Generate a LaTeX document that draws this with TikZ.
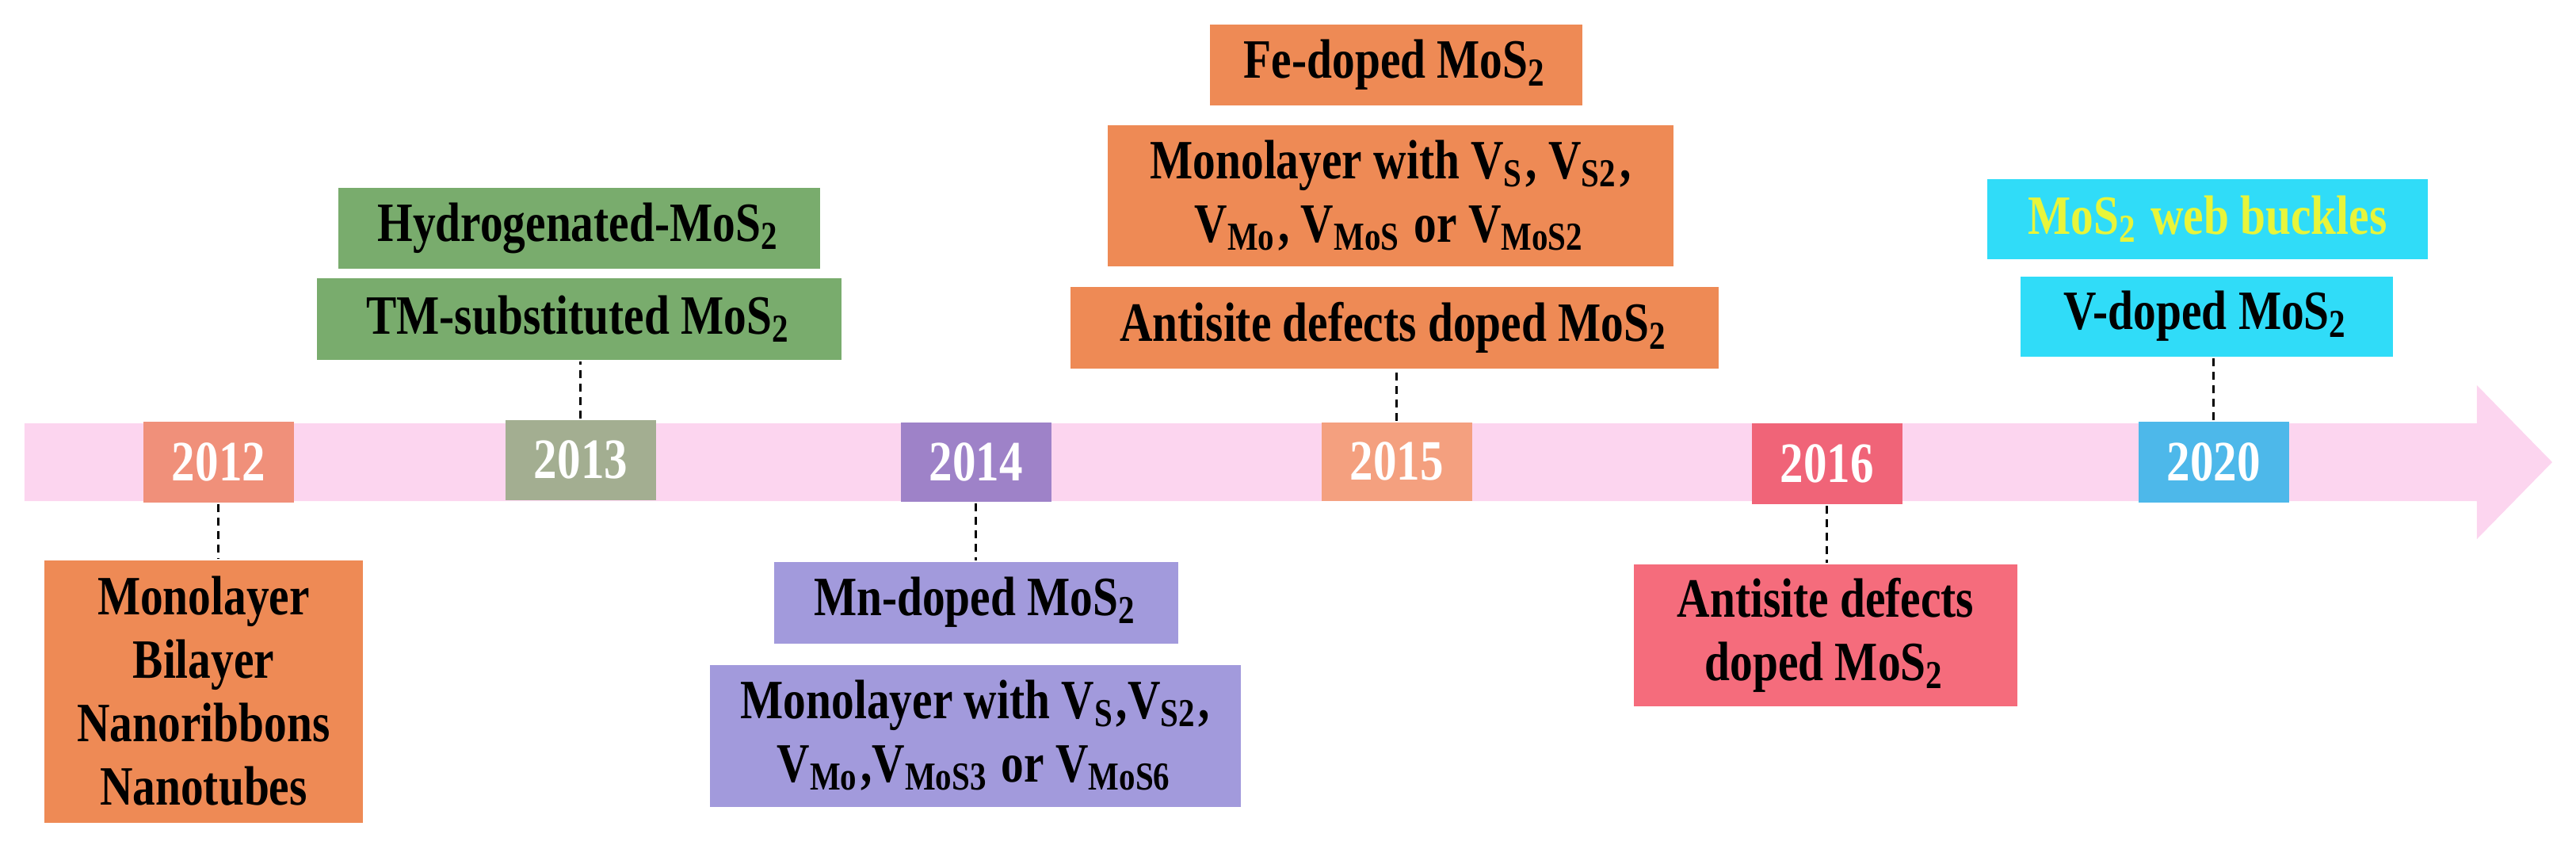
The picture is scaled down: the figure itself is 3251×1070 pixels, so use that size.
\documentclass[tikz,border=0pt]{standalone}
\usepackage{fontspec}
\setmainfont{Liberation Serif}[FakeStretch=0.82]
\newcommand\sbs[1]{\textsubscript{#1}}
\definecolor{band}{HTML}{FCD5EF}
\definecolor{c12}{HTML}{F0907A}
\definecolor{c13}{HTML}{A3AE91}
\definecolor{c14}{HTML}{9E82C8}
\definecolor{c15}{HTML}{F4A07F}
\definecolor{c16}{HTML}{F06478}
\definecolor{c20}{HTML}{4DB8EA}
\definecolor{corange}{HTML}{EE8A55}
\definecolor{cgreen}{HTML}{79AC6D}
\definecolor{cpurple}{HTML}{A29ADC}
\definecolor{cred}{HTML}{F56C7C}
\definecolor{ccyan}{HTML}{30DCF8}
\definecolor{cyel}{HTML}{E8F53A}
\begin{document}
\begin{tikzpicture}[x=0.1pt,y=-0.1pt,
  yearbox/.style={inner sep=0,font=\bfseries\fontsize{7.2}{8}\selectfont,text=white},
  infobox/.style={inner sep=0,align=center,font=\bfseries\fontsize{7}{8}\selectfont},
  conn/.style={dash pattern=on 1pt off 0.7pt,line width=0.3pt}]
\useasboundingbox (0,0) rectangle (3251,1070);
\fill[band] (31,534) -- (3126,534) -- (3126,486) -- (3221,583) -- (3126,680) -- (3126,632) -- (31,632) -- cycle;
\node[yearbox,fill=c12,minimum width=19pt,minimum height=10.2pt] (n12) at (276,583) {2012};
\node[yearbox,fill=c13,minimum width=19pt,minimum height=10.1pt] (n13) at (733,580) {2013};
\node[yearbox,fill=c14,minimum width=19pt,minimum height=10pt] (n14) at (1232,583) {2014};
\node[yearbox,fill=c15,minimum width=19pt,minimum height=9.9pt] (n15) at (1763,582) {2015};
\node[yearbox,fill=c16,minimum width=19pt,minimum height=10.2pt] (n16) at (2306,585) {2016};
\node[yearbox,fill=c20,minimum width=19pt,minimum height=10.2pt] (n20) at (2794,583) {2020};
\node[infobox,fill=corange,minimum width=40.2pt,minimum height=33.1pt] (mono) at (257,872) {Monolayer\\Bilayer\\Nanoribbons\\Nanotubes};
\node[infobox,fill=cgreen,minimum width=60.8pt,minimum height=10.2pt] (hyd) at (731,288) {Hydrogenated-MoS\sbs{2}};
\node[infobox,fill=cgreen,minimum width=66.2pt,minimum height=10.3pt] (tm) at (731,402) {TM-substituted MoS\sbs{2}};
\node[infobox,fill=cpurple,minimum width=51.1pt,minimum height=10.3pt] (mn) at (1232,760) {Mn-doped MoS\sbs{2}};
\node[infobox,fill=cpurple,minimum width=67pt,minimum height=17.9pt] (mv14) at (1231,928) {Monolayer with V\sbs{S},V\sbs{S2},\\V\sbs{Mo},V\sbs{MoS3} or V\sbs{MoS6}};
\node[infobox,fill=corange,minimum width=47.1pt,minimum height=10.2pt] (fe) at (1762,82) {Fe-doped MoS\sbs{2}};
\node[infobox,fill=corange,minimum width=71.4pt,minimum height=17.8pt] (mv15) at (1755,247) {Monolayer with V\sbs{S}, V\sbs{S2},\\V\sbs{Mo}, V\sbs{MoS} or V\sbs{MoS2}};
\node[infobox,fill=corange,minimum width=81.9pt,minimum height=10.3pt] (anti15) at (1760,413) {Antisite defects doped MoS\sbs{2}};
\node[infobox,fill=cred,minimum width=48.4pt,minimum height=17.9pt] (anti16) at (2304,801) {Antisite defects\\doped MoS\sbs{2}};
\node[infobox,fill=ccyan,minimum width=55.6pt,minimum height=10.1pt,text=cyel] (web) at (2786,276) {MoS\sbs{2} web buckles};
\node[infobox,fill=ccyan,minimum width=47pt,minimum height=10.1pt] (vd) at (2785,399) {V-doped MoS\sbs{2}};
\draw[conn] (n12.south) -- (n12.south |- mono.north);
\draw[conn] (n13.north) -- (n13.north |- tm.south);
\draw[conn] (n14.south) -- (n14.south |- mn.north);
\draw[conn] (n15.north) -- (n15.north |- anti15.south);
\draw[conn] (n16.south) -- (n16.south |- anti16.north);
\draw[conn] (n20.north) -- (n20.north |- vd.south);
\end{tikzpicture}
\end{document}
